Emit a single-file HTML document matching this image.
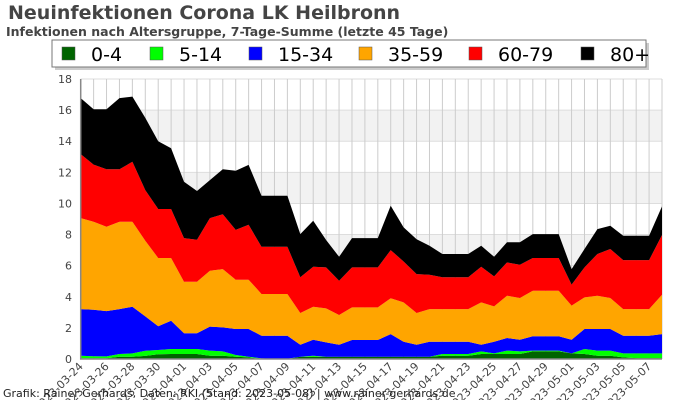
<!DOCTYPE html>
<html><head><meta charset="utf-8"><style>
body{margin:0;width:700px;height:400px;background:#fff;overflow:hidden;font-family:"DejaVu Sans","Liberation Sans",sans-serif}
svg{position:absolute;left:0;top:0}
</style></head><body>
<svg id="c" width="700" height="400"></svg>
<script>
const dates=["03-24","03-25","03-26","03-27","03-28","03-29","03-30","03-31","04-01","04-02","04-03","04-04","04-05","04-06","04-07","04-08","04-09","04-10","04-11","04-12","04-13","04-14","04-15","04-16","04-17","04-18","04-19","04-20","04-21","04-22","04-23","04-24","04-25","04-26","04-27","04-28","04-29","04-30","05-01","05-02","05-03","05-04","05-05","05-06","05-07","05-08"];
const g0_4=[0.05,0.05,0.05,0.15,0.15,0.2,0.3,0.32,0.32,0.32,0.21,0.21,0.15,0.1,0,0,0,0.15,0.15,0.15,0.15,0.15,0.15,0.15,0.15,0.15,0.15,0.15,0.21,0.21,0.21,0.32,0.32,0.32,0.32,0.49,0.49,0.49,0.36,0.32,0.21,0.21,0.1,0.06,0.06,0.06];
const g5_14=[0.16,0.13,0.12,0.17,0.21,0.33,0.28,0.32,0.32,0.32,0.33,0.28,0.11,0.05,0.04,0.02,0.02,0,0.06,0,0,0,0,0,0,0,0,0,0.11,0.11,0.11,0.17,0.04,0.22,0.17,0.05,0.05,0.05,0,0.32,0.33,0.33,0.26,0.3,0.3,0.3];
const g15_34=[3.0,2.99,2.91,2.89,3.0,2.21,1.52,1.82,1.01,1.01,1.54,1.54,1.67,1.78,1.46,1.48,1.48,0.77,1.03,0.92,0.77,1.07,1.07,1.07,1.45,0.96,0.77,0.96,0.79,0.79,0.79,0.43,0.75,0.81,0.75,0.92,0.92,0.92,0.88,1.29,1.39,1.39,1.14,1.14,1.14,1.24];
const g35_59=[5.85,5.65,5.42,5.61,5.46,4.86,4.39,4.03,3.32,3.32,3.59,3.75,3.17,3.17,2.68,2.68,2.68,2.04,2.12,2.18,1.91,2.1,2.1,2.1,2.3,2.53,2.04,2.1,2.1,2.1,2.1,2.72,2.27,2.72,2.68,2.93,2.93,2.93,2.19,2.03,2.14,1.99,1.71,1.71,1.71,2.53];
const g60_79=[4.11,3.68,3.7,3.38,3.86,3.26,3.15,3.15,2.8,2.7,3.39,3.53,3.2,3.53,3.04,3.04,3.04,2.29,2.57,2.64,2.2,2.57,2.57,2.57,3.1,2.63,2.5,2.21,2.04,2.04,2.04,2.29,1.93,2.14,2.14,2.1,2.1,2.1,1.35,1.93,2.68,3.15,3.15,3.15,3.15,3.84];
const g80=[3.6,3.56,3.86,4.57,4.19,4.64,4.36,3.91,3.63,3.13,2.44,2.89,3.8,3.85,3.28,3.28,3.28,2.78,2.96,1.76,1.54,1.88,1.88,1.88,2.85,2.19,2.24,1.86,1.5,1.5,1.5,1.35,1.26,1.29,1.44,1.54,1.54,1.54,1.0,1.18,1.6,1.5,1.56,1.56,1.56,1.84];
const yTicks=[0,2,4,6,8,10,12,14,16,18];
const seriesNames=["0-4","5-14","15-34","35-59","60-79","80+"];
const colors=["#006400","#00ff00","#0000ff","#ffa500","#ff0000","#000000"];
const series=[g0_4,g5_14,g15_34,g35_59,g60_79,g80];

const NS="http://www.w3.org/2000/svg";
const svg=document.getElementById('c');
const X0=80.7,X1=662,Y0=359,Y1=79,YMAX=18;
const xs=i=>X0+(X1-X0)*i/(dates.length-1);
const ys=v=>Y0-(Y0-Y1)*v/YMAX;
function mk(t,a,p){const e=document.createElementNS(NS,t);for(const k in a)e.setAttribute(k,a[k]);(p||svg).appendChild(e);return e;}

const title=mk('text',{x:8,y:19,'font-size':19,'font-weight':'bold',fill:'#444'});


title.textContent='Neuinfektionen Corona LK Heilbronn';
const sub=mk('text',{x:6,y:36,'font-size':12.5,'font-weight':'bold',fill:'#444'});


sub.textContent='Infektionen nach Altersgruppe, 7-Tage-Summe (letzte 45 Tage)';

// bands
for(let v=0;v<YMAX;v+=2){
  const b=mk('rect',{x:X0,y:ys(v+2),width:X1-X0,height:ys(v)-ys(v+2),fill:(v%4===2)?'#f2f2f2':'#fff'});
  
  
}
yTicks.forEach(v=>{
  const l=mk('line',{x1:X0,x2:X1,y1:ys(v),y2:ys(v),stroke:'#ddd'});
  
  
  const t=mk('text',{x:72,y:ys(v)+4,'font-size':11,fill:'#444','text-anchor':'end'});
  
  
  t.textContent=v;
});
dates.forEach((d,i)=>{
  const l=mk('line',{x1:xs(i),x2:xs(i),y1:Y1,y2:Y0,stroke:'#ccc'});
  
  
});
// stacked areas
const cum=new Array(dates.length).fill(0);
series.forEach((s,k)=>{
  const low=cum.slice();
  for(let i=0;i<s.length;i++)cum[i]+=s[i];
  let d='';
  for(let i=0;i<s.length;i++)d+=(i?'L':'M')+xs(i).toFixed(1)+','+ys(cum[i]).toFixed(1);
  for(let i=s.length-1;i>=0;i--)d+='L'+xs(i).toFixed(1)+','+ys(low[i]).toFixed(1);
  const p=mk('path',{d:d+'Z',fill:colors[k]});
  
  
});
const ax=mk('path',{d:`M${X0},${Y1}V${Y0}H${X1}`,stroke:'#888',fill:'none','stroke-width':1.5});


// x labels
dates.forEach((d,i)=>{
  if(i%2)return;
  const t=mk('text',{x:xs(i)+3,y:Y0+8,'font-size':11,fill:'#444','text-anchor':'end',transform:`rotate(-45 ${xs(i)+3} ${Y0+8})`});
  
  
  t.textContent='2023-'+d;
});
const ft=mk('text',{x:3,y:397,'font-size':11,fill:'#222'});


ft.textContent='Grafik: Rainer Gerhards, Daten: RKI (Stand: 2023-05-08) | www.rainer-gerhards.de';
// legend
const lg=mk('g',{});


mk('rect',{x:55,y:43,width:594,height:27,fill:'#999',opacity:0.5},lg);
mk('rect',{x:52,y:40,width:594,height:27,fill:'#fff',stroke:'#777'},lg);
const lx=[62,150,249,359,469,581];
seriesNames.forEach((n,k)=>{
  const g=mk('g',{},lg);
  
  
  mk('rect',{x:lx[k],y:47,width:13,height:13,fill:colors[k],stroke:'#555','stroke-width':0.5},g);
  const t=mk('text',{x:lx[k]+29,y:61,'font-size':19,fill:'#000'},g);
  t.textContent=n;
});
</script>
</body></html>
